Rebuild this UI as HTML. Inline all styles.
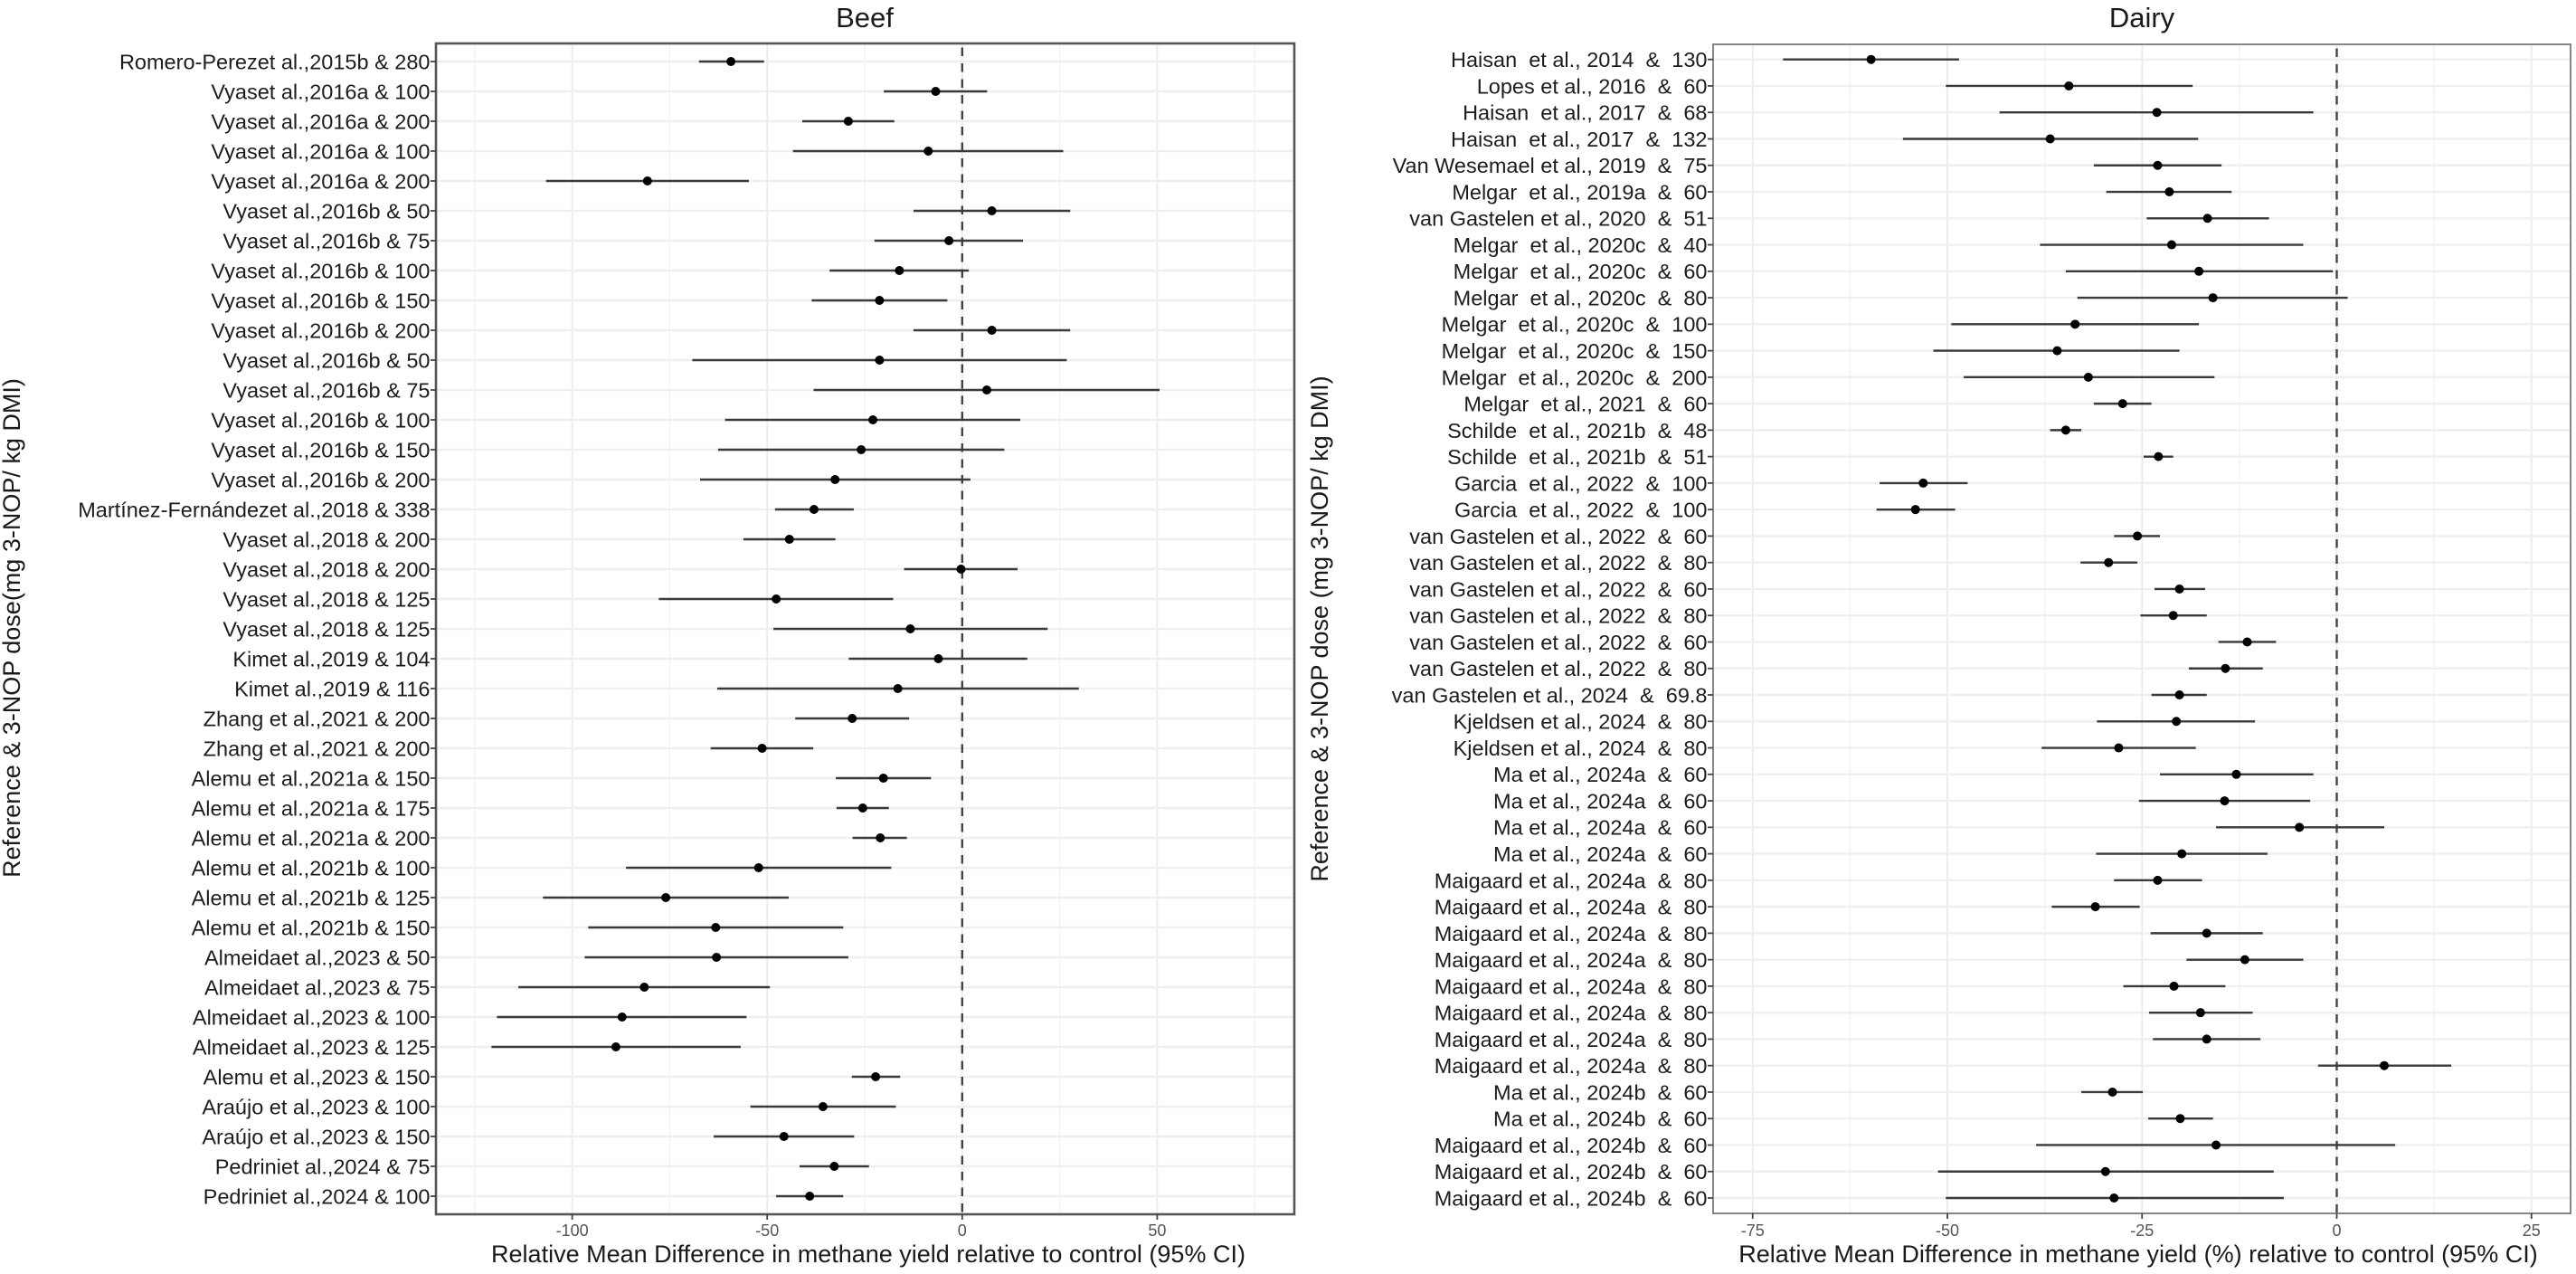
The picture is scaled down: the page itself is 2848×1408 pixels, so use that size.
<!DOCTYPE html>
<html lang="en">
<head>
<meta charset="utf-8">
<title>3-NOP methane yield forest plots: Beef and Dairy</title>
<style>
html,body{margin:0;padding:0;background:#fff;}
svg{display:block;font-family:"Liberation Sans",Arial,sans-serif;}
.ylab{font-size:23.5px;fill:#1c1c1c;text-anchor:end;white-space:pre;}
.xlab{font-size:18px;fill:#555;text-anchor:middle;}
.ttl{font-size:31px;fill:#1a1a1a;text-anchor:middle;}
.axt{font-size:27px;fill:#1a1a1a;text-anchor:middle;}
</style>
</head>
<body>
<svg id="figure" xmlns="http://www.w3.org/2000/svg" width="2848" height="1408" viewBox="0 0 2848 1408">
  <rect x="0" y="0" width="2848" height="1408" fill="#ffffff"/>
  <g id="beef-panel"></g>
  <g id="dairy-panel"></g>
  <text class="ttl" x="956" y="30">Beef</text>
  <text class="ttl" x="2368" y="30">Dairy</text>
  <text class="axt" x="960" y="1395">Relative Mean Difference in methane yield relative to control (95% CI)</text>
  <text class="axt" x="2364" y="1395">Relative Mean Difference in methane yield (%) relative to control (95% CI)</text>
  <text class="axt" transform="translate(22,694) rotate(-90)">Reference &amp; 3-NOP dose(mg 3-NOP/ kg DMI)</text>
  <text class="axt" transform="translate(1468,695) rotate(-90)">Reference &amp; 3-NOP dose (mg 3-NOP/ kg DMI)</text>
</svg>
<script>
var beefLabels = ["Romero-Perezet al.,2015b & 280","Vyaset al.,2016a & 100","Vyaset al.,2016a & 200","Vyaset al.,2016a & 100","Vyaset al.,2016a & 200","Vyaset al.,2016b & 50","Vyaset al.,2016b & 75","Vyaset al.,2016b & 100","Vyaset al.,2016b & 150","Vyaset al.,2016b & 200","Vyaset al.,2016b & 50","Vyaset al.,2016b & 75","Vyaset al.,2016b & 100","Vyaset al.,2016b & 150","Vyaset al.,2016b & 200","Martínez-Fernándezet al.,2018 & 338","Vyaset al.,2018 & 200","Vyaset al.,2018 & 200","Vyaset al.,2018 & 125","Vyaset al.,2018 & 125","Kimet al.,2019 & 104","Kimet al.,2019 & 116","Zhang et al.,2021 & 200","Zhang et al.,2021 & 200","Alemu et al.,2021a & 150","Alemu et al.,2021a & 175","Alemu et al.,2021a & 200","Alemu et al.,2021b & 100","Alemu et al.,2021b & 125","Alemu et al.,2021b & 150","Almeidaet al.,2023 & 50","Almeidaet al.,2023 & 75","Almeidaet al.,2023 & 100","Almeidaet al.,2023 & 125","Alemu et al.,2023 & 150","Araújo et al.,2023 & 100","Araújo et al.,2023 & 150","Pedriniet al.,2024 & 75","Pedriniet al.,2024 & 100"];
var beefMeans = [-59.3,-6.8,-29.2,-8.7,-80.7,7.6,-3.4,-16.1,-21.2,7.6,-21.2,6.3,-22.9,-25.9,-32.6,-38.0,-44.3,-0.3,-47.7,-13.3,-6.1,-16.5,-28.2,-51.3,-20.2,-25.5,-21.0,-52.2,-76.0,-63.2,-63.0,-81.5,-87.2,-88.8,-22.2,-35.7,-45.7,-32.8,-39.1];
var beefLows = [-67.5,-20.1,-41.0,-43.4,-106.7,-12.5,-22.5,-34.0,-38.6,-12.5,-69.2,-38.1,-60.8,-62.6,-67.2,-48.0,-56.1,-14.9,-77.8,-48.4,-29.1,-62.8,-42.8,-64.5,-32.4,-32.2,-28.1,-86.2,-107.5,-95.9,-96.8,-113.8,-119.3,-120.7,-28.3,-54.3,-63.7,-41.7,-47.7];
var beefHighs = [-50.8,6.4,-17.4,25.9,-54.7,27.7,15.6,1.7,-3.8,27.7,26.8,50.6,14.9,10.8,2.1,-27.8,-32.5,14.2,-17.7,21.9,16.7,29.9,-13.6,-38.2,-8.0,-18.8,-14.2,-18.2,-44.5,-30.5,-29.2,-49.3,-55.3,-56.8,-15.9,-17.0,-27.7,-23.9,-30.5];
var beefTicks = [-100,-50,0,50];
var beefMinorTicks = [-125,-75,-25,25,75];

var dairyLabels = ["Haisan  et al., 2014  &  130","Lopes et al., 2016  &  60","Haisan  et al., 2017  &  68","Haisan  et al., 2017  &  132","Van Wesemael et al., 2019  &  75","Melgar  et al., 2019a  &  60","van Gastelen et al., 2020  &  51","Melgar  et al., 2020c  &  40","Melgar  et al., 2020c  &  60","Melgar  et al., 2020c  &  80","Melgar  et al., 2020c  &  100","Melgar  et al., 2020c  &  150","Melgar  et al., 2020c  &  200","Melgar  et al., 2021  &  60","Schilde  et al., 2021b  &  48","Schilde  et al., 2021b  &  51","Garcia  et al., 2022  &  100","Garcia  et al., 2022  &  100","van Gastelen et al., 2022  &  60","van Gastelen et al., 2022  &  80","van Gastelen et al., 2022  &  60","van Gastelen et al., 2022  &  80","van Gastelen et al., 2022  &  60","van Gastelen et al., 2022  &  80","van Gastelen et al., 2024  &  69.8","Kjeldsen et al., 2024  &  80","Kjeldsen et al., 2024  &  80","Ma et al., 2024a  &  60","Ma et al., 2024a  &  60","Ma et al., 2024a  &  60","Ma et al., 2024a  &  60","Maigaard et al., 2024a  &  80","Maigaard et al., 2024a  &  80","Maigaard et al., 2024a  &  80","Maigaard et al., 2024a  &  80","Maigaard et al., 2024a  &  80","Maigaard et al., 2024a  &  80","Maigaard et al., 2024a  &  80","Maigaard et al., 2024a  &  80","Ma et al., 2024b  &  60","Ma et al., 2024b  &  60","Maigaard et al., 2024b  &  60","Maigaard et al., 2024b  &  60","Maigaard et al., 2024b  &  60"];
var dairyMeans = [-59.8,-34.4,-23.1,-36.8,-23.0,-21.5,-16.6,-21.2,-17.7,-15.9,-33.6,-35.9,-31.9,-27.5,-34.8,-22.9,-53.1,-54.1,-25.6,-29.3,-20.2,-21.0,-11.5,-14.3,-20.2,-20.6,-28.0,-12.9,-14.4,-4.8,-19.9,-23.0,-31.0,-16.7,-11.8,-20.9,-17.5,-16.7,6.1,-28.8,-20.1,-15.5,-29.7,-28.6];
var dairyLows = [-71.1,-50.2,-43.3,-55.7,-31.2,-29.6,-24.4,-38.1,-34.8,-33.3,-49.5,-51.8,-47.9,-31.2,-36.8,-24.8,-58.7,-59.1,-28.6,-32.9,-23.4,-25.2,-15.2,-19.0,-23.8,-30.8,-37.9,-22.7,-25.4,-15.5,-30.9,-28.6,-36.6,-23.9,-19.3,-27.4,-24.1,-23.6,-2.4,-32.8,-24.2,-38.6,-51.2,-50.2];
var dairyHighs = [-48.5,-18.5,-3.0,-17.8,-14.8,-13.5,-8.7,-4.3,-0.5,1.4,-17.7,-20.2,-15.7,-23.8,-32.8,-21.0,-47.4,-49.0,-22.7,-25.6,-16.9,-16.7,-7.8,-9.5,-16.7,-10.5,-18.1,-3.0,-3.4,6.1,-8.9,-17.3,-25.3,-9.5,-4.3,-14.3,-10.8,-9.8,14.7,-24.9,-15.9,7.5,-8.1,-6.8];
var dairyTicks = [-75,-50,-25,0,25];
var dairyMinorTicks = [-62.5,-37.5,-12.5,12.5];

var SVG_NS = "http://www.w3.org/2000/svg";

function xBeef(v){ return 1063.8 + v * 4.312; }
function yBeef(i){ return 68 + i * 33; }
function xDairy(v){ return 2583.5 + v * 8.61; }
function yDairy(i){ return 65.7 + i * 29.263; }

function line(parent, x1, y1, x2, y2, color, width){
  var el = document.createElementNS(SVG_NS, "line");
  el.setAttribute("x1", x1);
  el.setAttribute("y1", y1);
  el.setAttribute("x2", x2);
  el.setAttribute("y2", y2);
  el.setAttribute("stroke", color);
  el.setAttribute("stroke-width", width);
  parent.appendChild(el);
  return el;
}

function drawPanel(parent, box, x, y, labels, means, lows, highs, ticks, minorTicks, frameColor, frameWidth){
  var el, i;
  for (i = 0; i < minorTicks.length; i++) {
    el = line(parent, x(minorTicks[i]), box.top, x(minorTicks[i]), box.bottom, "#f1f1f1", 1.3);
    
    
  }
  for (i = 0; i < ticks.length; i++) {
    el = line(parent, x(ticks[i]), box.top, x(ticks[i]), box.bottom, "#ebebeb", 1.8);
    
    
  }
  for (i = 0; i < labels.length; i++) {
    el = line(parent, box.left, y(i), box.right, y(i), "#efefef", 2.4);
    
    
  }

  el = line(parent, x(0), box.top + 4.5, x(0), box.bottom, "#444444", 2.4);
  el.setAttribute("stroke-dasharray", "9.5 8");
  
  

  for (i = 0; i < labels.length; i++) {
    el = line(parent, x(lows[i]), y(i), x(highs[i]), y(i), "#3a3a3a", 2.4);
    
    
  }
  for (i = 0; i < labels.length; i++) {
    el = document.createElementNS(SVG_NS, "circle");
    el.setAttribute("cx", x(means[i]));
    el.setAttribute("cy", y(i));
    el.setAttribute("r", 5);
    el.setAttribute("fill", "#000000");
    
    
    parent.appendChild(el);
  }

  el = document.createElementNS(SVG_NS, "rect");
  el.setAttribute("x", box.left);
  el.setAttribute("y", box.top);
  el.setAttribute("width", box.right - box.left);
  el.setAttribute("height", box.bottom - box.top);
  el.setAttribute("fill", "none");
  el.setAttribute("stroke", frameColor);
  el.setAttribute("stroke-width", frameWidth);
  
  
  parent.appendChild(el);

  for (i = 0; i < labels.length; i++) {
    el = line(parent, box.left - 6, y(i), box.left, y(i), "#444444", 1.8);
    
    

    el = document.createElementNS(SVG_NS, "text");
    el.setAttribute("class", "ylab");
    el.setAttribute("x", box.left - 6.5);
    el.setAttribute("y", y(i) + 8.4);
    el.setAttribute("xml:space", "preserve");
    el.textContent = labels[i];
    
    
    parent.appendChild(el);
  }

  for (i = 0; i < ticks.length; i++) {
    el = line(parent, x(ticks[i]), box.bottom, x(ticks[i]), box.bottom + 6, "#444444", 1.8);
    
    

    el = document.createElementNS(SVG_NS, "text");
    el.setAttribute("class", "xlab");
    el.setAttribute("x", x(ticks[i]));
    el.setAttribute("y", 1366);
    el.textContent = String(ticks[i]);
    
    
    parent.appendChild(el);
  }
}

drawPanel(document.getElementById("beef-panel"),
  {left: 482, right: 1431, top: 48, bottom: 1342},
  xBeef, yBeef, beefLabels, beefMeans, beefLows, beefHighs, beefTicks, beefMinorTicks, "#555555", 2.6);

drawPanel(document.getElementById("dairy-panel"),
  {left: 1894, right: 2842, top: 49, bottom: 1341},
  xDairy, yDairy, dairyLabels, dairyMeans, dairyLows, dairyHighs, dairyTicks, dairyMinorTicks, "#7a7a7a", 1.8);
</script>
</body>
</html>
